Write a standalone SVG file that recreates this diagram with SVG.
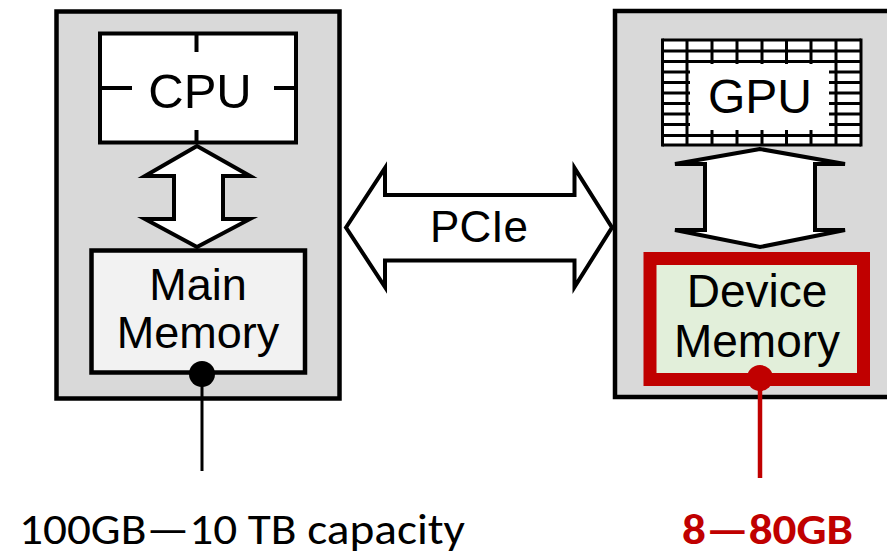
<svg xmlns="http://www.w3.org/2000/svg" width="887" height="556" viewBox="0 0 887 556">
<style>
.box{fill:#d9d9d9;stroke:#000;stroke-width:4.5}
.lbl{font-family:"Liberation Sans",Arial,sans-serif;fill:#000;text-anchor:middle}
.arrow{fill:#fff;stroke:#000;stroke-width:4;stroke-linejoin:miter;stroke-miterlimit:10}
.grid line{stroke:#000;stroke-width:3}
.cap{font-family:Carlito,Calibri,"Open Sans",sans-serif}
</style>
<rect width="887" height="556" fill="#fff"/>
<g id="host">
<rect class="box" x="56.5" y="11.5" width="283" height="387"/>
</g>
<g id="device">
<rect class="box" x="615" y="11" width="290" height="386"/>
</g>
<g id="cpu">
<rect x="100" y="33.5" width="196" height="109" fill="#fff" stroke="#000" stroke-width="4"/>
<g stroke="#000" stroke-width="4">
<line x1="196.5" y1="34" x2="196.5" y2="52"/>
<line x1="196.5" y1="130" x2="196.5" y2="142"/>
<line x1="100" y1="88" x2="132" y2="88"/>
<line x1="274" y1="88" x2="296" y2="88"/>
</g>
<text class="lbl" x="200" y="108" font-size="49">CPU</text>
</g>
<g id="main-memory">
<rect x="91.5" y="250.5" width="213.5" height="122" fill="#f2f2f2" stroke="#000" stroke-width="4.5"/>
<text class="lbl" x="198" y="300" font-size="45">Main</text>
<text class="lbl" x="198" y="348" font-size="45">Memory</text>
</g>
<g id="gpu">
<rect x="662.5" y="40" width="198.5" height="105" fill="#fff"/>
<g class="grid">
<line x1="662.5" y1="40" x2="861" y2="40"/>
<line x1="662.5" y1="51" x2="861" y2="51"/>
<line x1="662.5" y1="61.5" x2="861" y2="61.5"/>
<line x1="662.5" y1="72" x2="861" y2="72"/>
<line x1="662.5" y1="82.5" x2="861" y2="82.5"/>
<line x1="662.5" y1="93" x2="861" y2="93"/>
<line x1="662.5" y1="103.5" x2="861" y2="103.5"/>
<line x1="662.5" y1="114" x2="861" y2="114"/>
<line x1="662.5" y1="124.5" x2="861" y2="124.5"/>
<line x1="662.5" y1="135.5" x2="861" y2="135.5"/>
<line x1="662.5" y1="145" x2="861" y2="145"/>
<line x1="662.5" y1="38.5" x2="662.5" y2="146.5"/>
<line x1="687" y1="40" x2="687" y2="145"/>
<line x1="712" y1="40" x2="712" y2="145"/>
<line x1="737" y1="40" x2="737" y2="145"/>
<line x1="762" y1="40" x2="762" y2="145"/>
<line x1="786.5" y1="40" x2="786.5" y2="145"/>
<line x1="811" y1="40" x2="811" y2="145"/>
<line x1="836" y1="40" x2="836" y2="145"/>
<line x1="861" y1="38.5" x2="861" y2="146.5"/>
</g>
<rect x="690" y="64" width="139" height="66" fill="#fff"/>
<text class="lbl" x="760" y="113" font-size="48">GPU</text>
</g>
<g id="device-memory">
<rect x="650" y="258.5" width="213.5" height="121" fill="#e2efda" stroke="#c00000" stroke-width="13"/>
<text class="lbl" x="757" y="307" font-size="46">Device</text>
<text class="lbl" x="757" y="357" font-size="46">Memory</text>
</g>
<g id="connectors">
<polygon class="arrow" points="197,146 145,176 174,176 174,219 145,219 197,247 250,219 223,219 223,176 250,176"/>
<polygon class="arrow" points="760,149 675,164 705,164 705,230 675,230 760,247 845,230 815,230 815,164 845,164"/>
<polygon class="arrow" points="346,227.5 385,168 385,195 574.5,195 574.5,168 612,227.5 574.5,287 574.5,260.5 385,260.5 385,287"/>
<line x1="202" y1="374" x2="202" y2="471" stroke="#000" stroke-width="3"/>
<circle cx="202" cy="374" r="13" fill="#000"/>
<line x1="760" y1="378" x2="760" y2="478" stroke="#c00000" stroke-width="4.5"/>
<circle cx="760" cy="378" r="13" fill="#c00000"/>
</g>
<g id="labels">
<text class="lbl" x="479" y="242" font-size="44">PCIe</text>
<text class="cap" x="19" y="544" font-size="44" fill="#000" textLength="446" lengthAdjust="spacingAndGlyphs">100GB—10 TB capacity</text>
<text class="cap" x="682" y="544" font-size="42" font-weight="bold" fill="#c00000" textLength="171" lengthAdjust="spacingAndGlyphs">8—80GB</text>
</g>
</svg>
